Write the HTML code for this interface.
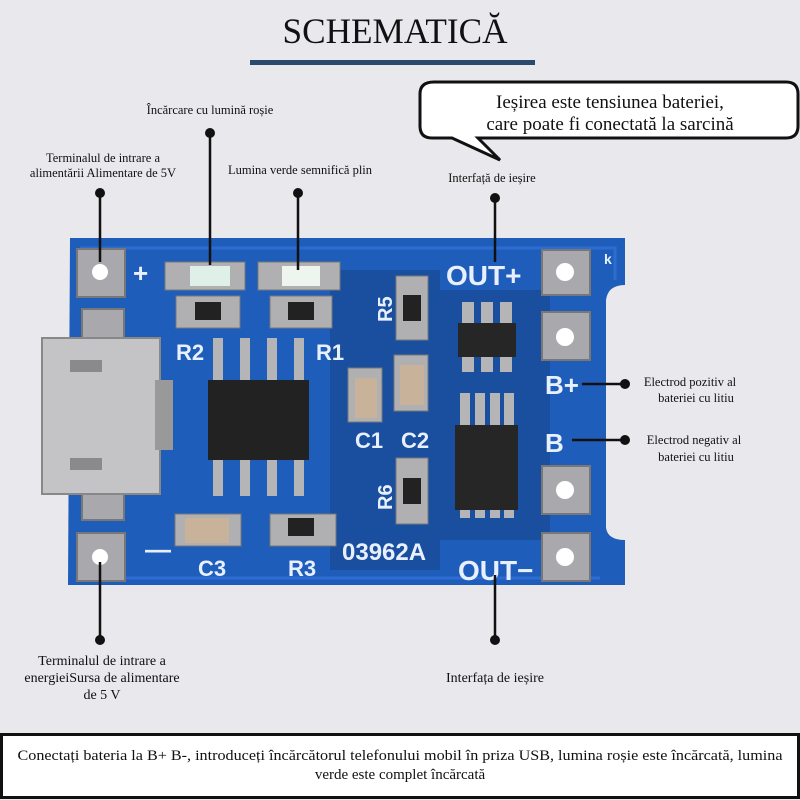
<!DOCTYPE html>
<html><head><meta charset="utf-8"><style>
html,body{margin:0;padding:0;background:#e9e9ed;}
svg{display:block}
.s{font-family:"Liberation Serif",serif;}
.w{font-family:"Liberation Sans",sans-serif;font-weight:bold;fill:#e8f0ff;}
</style></head><body>
<svg width="800" height="800" viewBox="0 0 800 800" xmlns="http://www.w3.org/2000/svg">
<rect width="800" height="800" fill="#e9e9ed"/>
<text x="395" y="43" text-anchor="middle" class="s" font-size="36" textLength="225" lengthAdjust="spacingAndGlyphs" fill="#111">SCHEMATICĂ</text>
<rect x="250" y="60" width="285" height="5" fill="#2c4a6c"/>
<path d="M434,82 H786 Q798,82 798,94 V126 Q798,138 786,138 H478 L500,160 L452,138 H432 Q420,138 420,126 V94 Q420,82 434,82 Z" fill="#fff" stroke="#111" stroke-width="3"/>
<text x="610" y="108" text-anchor="middle" class="s" font-size="19" fill="#111">Ieșirea este tensiunea bateriei,</text>
<text x="610" y="130" text-anchor="middle" class="s" font-size="19" fill="#111">care poate fi conectată la sarcină</text>
<g class="s" font-size="12.5" fill="#111" text-anchor="middle">
<text x="210" y="114">Încărcare cu lumină roșie</text>
<text x="103" y="162">Terminalul de intrare a</text>
<text x="103" y="177">alimentării Alimentare de 5V</text>
<text x="300" y="174">Lumina verde semnifică plin</text>
<text x="492" y="182">Interfață de ieșire</text>
<text x="690" y="386">Electrod pozitiv al</text>
<text x="696" y="402">bateriei cu litiu</text>
<text x="694" y="444">Electrod negativ al</text>
<text x="696" y="461">bateriei cu litiu</text>
<text x="102" y="665" font-size="14">Terminalul de intrare a</text>
<text x="102" y="682" font-size="14">energieiSursa de alimentare</text>
<text x="102" y="699" font-size="14">de 5 V</text>
<text x="495" y="682" font-size="14">Interfața de ieșire</text>
</g>
<path d="M70,238 H625 V285 Q608,285 606,300 V528 Q608,540 625,540 V585 H68 Z" fill="#1f5dba"/>
<path d="M80,248 H615 V280 M90,578 H600" stroke="#2d6cd0" stroke-width="3" fill="none"/>
<g fill="#1a4fa0">
<rect x="330" y="270" width="110" height="300"/><rect x="440" y="290" width="110" height="250"/>
</g>
<g fill="#a9a9ad" stroke="#777" stroke-width="2">
<rect x="77" y="249" width="48" height="48"/><rect x="77" y="533" width="48" height="48"/>
<rect x="542" y="250" width="48" height="45"/><rect x="542" y="312" width="48" height="48"/>
<rect x="542" y="466" width="48" height="48"/><rect x="542" y="533" width="48" height="48"/>
<rect x="82" y="309" width="42" height="30"/><rect x="82" y="490" width="42" height="30"/>
</g>
<g fill="#fff">
<circle cx="100" cy="272" r="8"/><circle cx="100" cy="557" r="8"/>
<circle cx="565" cy="272" r="9"/><circle cx="565" cy="337" r="9"/><circle cx="565" cy="490" r="9"/><circle cx="565" cy="557" r="9"/>
</g>
<rect x="42" y="338" width="118" height="156" fill="#c4c4c6" stroke="#888" stroke-width="2"/>
<rect x="155" y="380" width="18" height="70" fill="#999"/>
<rect x="70" y="360" width="32" height="12" fill="#8a8a8c"/><rect x="70" y="458" width="32" height="12" fill="#8a8a8c"/>
<g fill="#b0b0b2" stroke="#777">
<rect x="165" y="262" width="80" height="28"/><rect x="258" y="262" width="82" height="28"/>
<rect x="176" y="296" width="64" height="32"/><rect x="270" y="296" width="62" height="32"/>
<rect x="396" y="276" width="32" height="64"/><rect x="396" y="458" width="32" height="66"/>
<rect x="348" y="368" width="34" height="54"/><rect x="394" y="355" width="34" height="56"/>
<rect x="175" y="514" width="66" height="32"/><rect x="270" y="514" width="66" height="32"/>
</g>
<rect x="190" y="266" width="40" height="20" fill="#dff0e8"/><rect x="282" y="266" width="38" height="20" fill="#eef4ee"/>
<g fill="#222"><rect x="195" y="302" width="26" height="18"/><rect x="288" y="302" width="26" height="18"/>
<rect x="403" y="295" width="18" height="26"/><rect x="403" y="478" width="18" height="26"/><rect x="288" y="518" width="26" height="18"/></g>
<g fill="#c9b29a"><rect x="355" y="378" width="22" height="40"/><rect x="400" y="365" width="24" height="40"/><rect x="185" y="518" width="44" height="25"/></g>
<g fill="#b5b5b8">
<rect x="213" y="338" width="10" height="42"/><rect x="240" y="338" width="10" height="42"/><rect x="267" y="338" width="10" height="42"/><rect x="294" y="338" width="10" height="42"/>
<rect x="213" y="458" width="10" height="38"/><rect x="240" y="458" width="10" height="38"/><rect x="267" y="458" width="10" height="38"/><rect x="294" y="458" width="10" height="38"/>
<rect x="462" y="302" width="12" height="70"/><rect x="481" y="302" width="12" height="70"/><rect x="500" y="302" width="12" height="70"/>
<rect x="460" y="393" width="10" height="125"/><rect x="475" y="393" width="10" height="125"/><rect x="490" y="393" width="10" height="125"/><rect x="504" y="393" width="10" height="125"/>
</g>
<rect x="208" y="380" width="101" height="80" fill="#222"/>
<rect x="458" y="323" width="58" height="34" fill="#262626"/>
<rect x="455" y="425" width="63" height="85" fill="#262626"/>
<g class="w" font-size="26">
<text x="133" y="282">+</text>
<text x="446" y="285" font-size="28">OUT+</text>
<text x="176" y="360" font-size="22">R2</text><text x="316" y="360" font-size="22">R1</text>
<text x="355" y="448" font-size="22">C1</text><text x="401" y="448" font-size="22">C2</text>
<text x="145" y="558">—</text>
<text x="198" y="576" font-size="22">C3</text><text x="288" y="576" font-size="22">R3</text>
<text x="342" y="560" font-size="24">03962A</text>
<text x="458" y="580" font-size="28">OUT−</text>
<text x="545" y="394" font-size="26">B+</text><text x="545" y="452" font-size="26">B</text>
<text x="604" y="264" font-size="14">k</text>
<text font-size="20" transform="translate(392,322) rotate(-90)">R5</text>
<text font-size="20" transform="translate(392,510) rotate(-90)">R6</text>
</g>
<g stroke="#111" stroke-width="2.5">
<line x1="100" y1="193" x2="100" y2="262"/><line x1="210" y1="133" x2="210" y2="265"/>
<line x1="298" y1="193" x2="298" y2="270"/><line x1="495" y1="198" x2="495" y2="262"/>
<line x1="582" y1="384" x2="625" y2="384"/><line x1="572" y1="440" x2="625" y2="440"/>
<line x1="100" y1="562" x2="100" y2="640"/><line x1="495" y1="575" x2="495" y2="640"/>
</g>
<g fill="#111">
<circle cx="100" cy="193" r="5"/><circle cx="210" cy="133" r="5"/><circle cx="298" cy="193" r="5"/><circle cx="495" cy="198" r="5"/>
<circle cx="625" cy="384" r="5"/><circle cx="625" cy="440" r="5"/><circle cx="100" cy="640" r="5"/><circle cx="495" cy="640" r="5"/>
</g>
<rect x="1.5" y="734.5" width="797" height="63" fill="#fff" stroke="#111" stroke-width="3"/>
<text x="400" y="760" text-anchor="middle" class="s" font-size="15" fill="#111" textLength="765" lengthAdjust="spacingAndGlyphs">Conectați bateria la B+ B-, introduceți încărcătorul telefonului mobil în priza USB, lumina roșie este încărcată, lumina</text>
<text x="400" y="779" text-anchor="middle" class="s" font-size="15" fill="#111">verde este complet încărcată</text>
</svg>
</body></html>
